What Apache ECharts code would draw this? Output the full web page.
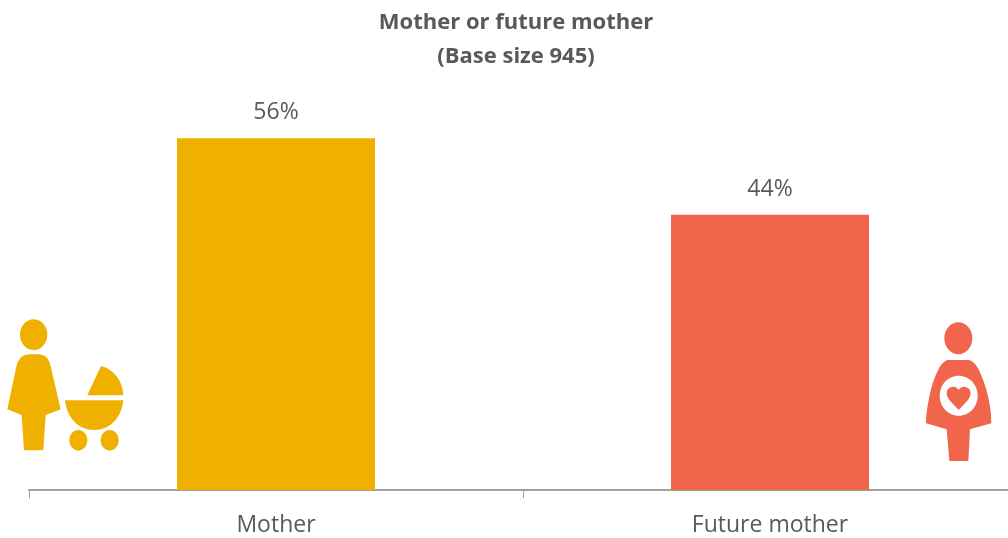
<!DOCTYPE html>
<html>
<head>
<meta charset="utf-8">
<style>html,body{margin:0;padding:0;background:#fff}#c{width:1008px;height:538px}</style>
<script src="https://cdn.jsdelivr.net/npm/echarts@6/dist/echarts.min.js"></script>
</head>
<body>
<div id="c"></div>
<script>
const categories = ['Mother', 'Future mother'];
const shares = [56, 43.8];
const barColors = ['#EFB000', '#F2654D'];
const titleText = 'Mother or future mother\n(Base size 945)';
const FONT = '"Open Sans", sans-serif';

function icon(x, y, color, children) {
  return { type: 'group', x: x, y: y, scaleX: 1 / 3, scaleY: 1 / 3, silent: true,
    children: children.map(c => Object.assign({ style: { fill: c.fill || color } }, c)) };
}
const ellipse = (cx, cy, rx, ry, fill) => ({ type: 'ellipse', shape: { cx, cy, rx, ry }, fill });
let shapeCount = 0;
const path = (d, fill) => {
  const name = 'iconShape' + (shapeCount++);
  echarts.graphic.registerShape(name, echarts.graphic.extendPath(d, {}));
  return { type: name, fill };
};

const chart = echarts.init(document.getElementById('c'));
chart.setOption({
  animation: false,
  title: {
    text: titleText, left: 511, top: 1, textAlign: 'center',
    textStyle: { fontFamily: FONT, fontSize: 22, fontWeight: 'bold', color: '#595959', lineHeight: 34 }
  },
  grid: { left: 29, width: 988, top: 0, height: 490, outerBoundsMode: 'none' },
  xAxis: {
    type: 'category', data: categories,
    axisLine: { lineStyle: { color: '#A0A0A0', width: 2 } },
    axisTick: { show: true, alignWithLabel: false, length: 8, lineStyle: { color: '#A0A0A0', width: 1 } },
    axisLabel: { fontFamily: FONT, fontSize: 23, color: '#595959', margin: 24, interval: 0 }
  },
  yAxis: { type: 'value', min: 0, max: 78, show: false },
  series: [{
    type: 'bar', barWidth: 198,
    data: shares.map((v, i) => ({ value: v, itemStyle: { color: barColors[i] } })),
    label: { show: true, position: 'top', distance: 14, fontFamily: FONT, fontSize: 23, color: '#595959',
      formatter: p => Math.round(p.value) + '%' }
  }],
  graphic: [
    icon(0, 310, barColors[0], [
      ellipse(101, 74, 41, 46),
      path('M50 165 C58 143 70 133 88 133 L115 133 C133 133 145 143 151 165 L182 298 L137 315 L130 421 L72 421 L65 315 L22 298 Z'),
      path('M303 168 L262 256 L370 256 C368 212 342 178 303 168 Z'),
      path('M195 271 L370 271 C364 325 330 360 282 360 C235 360 201 325 195 271 Z'),
      ellipse(235, 391, 27, 31),
      ellipse(329, 391, 27, 31)
    ]),
    icon(910, 310, barColors[1], [
      ellipse(145, 85, 42, 48),
      path('M112 150 L178 150 C200 155 215 195 228 235 C238 270 244 305 244 340 L180 358 L175 453 L118 453 L110 358 L48 340 C48 305 58 255 68 220 C82 180 95 155 112 150 Z'),
      ellipse(146, 257, 57, 60, '#FFFFFF'),
      path('M146 300 L118 270 C106 255 108 238 122 232 C133 227 142 232 146 240 C150 232 159 227 170 232 C184 238 186 255 174 270 Z')
    ])
  ]
});
</script>
</body>
</html>
